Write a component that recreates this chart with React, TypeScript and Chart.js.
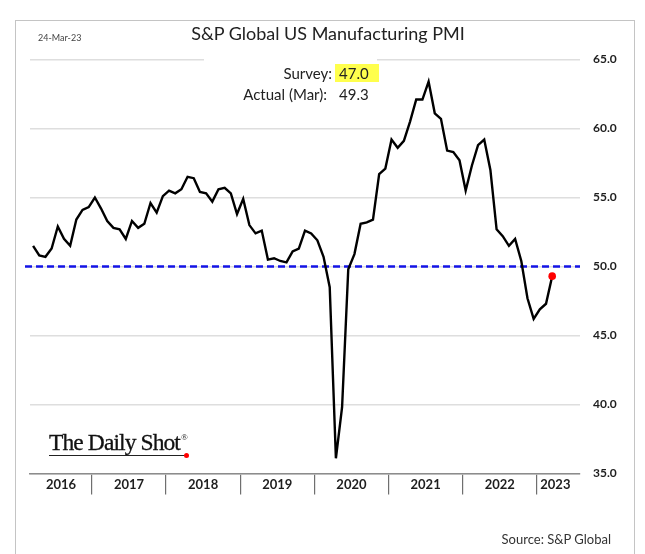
import React, { useEffect, useRef } from 'react';
import { Chart, registerables } from 'chart.js';

Chart.register(...registerables);

// ---- Data ----
const YEARS = ['2016', '2017', '2018', '2019', '2020', '2021', '2022', '2023'];
const MONTHS = ['Jan', 'Feb', 'Mar', 'Apr', 'May', 'Jun', 'Jul', 'Aug', 'Sep', 'Oct', 'Nov', 'Dec'];
const FIRST_MONTH_INDEX = 2; // axis starts Mar 2016
const LAST_MONTH_INDEX = 6; // axis runs to Jul 2023

const PMI_2016 = [51.5, 50.8, 50.7, 51.3, 52.9, 52.0, 51.5, 53.4, 54.1, 54.3]; // Mar-Dec
const PMI_2017 = [55.0, 54.2, 53.3, 52.8, 52.7, 52.0, 53.3, 52.8, 53.1, 54.6, 53.9, 55.1];
const PMI_2018 = [55.5, 55.3, 55.6, 56.5, 56.4, 55.4, 55.3, 54.7, 55.6, 55.7, 55.3, 53.8];
const PMI_2019 = [54.9, 53.0, 52.4, 52.6, 50.5, 50.6, 50.4, 50.3, 51.1, 51.3, 52.6, 52.4];
const PMI_2020 = [51.9, 50.7, 48.5, 36.1, 39.8, 49.8, 50.9, 53.1, 53.2, 53.4, 56.7, 57.1];
const PMI_2021 = [59.2, 58.6, 59.1, 60.5, 62.1, 62.1, 63.4, 61.1, 60.7, 58.4, 58.3, 57.7];
const PMI_2022 = [55.5, 57.3, 58.8, 59.2, 57.0, 52.7, 52.2, 51.5, 52.0, 50.4, 47.7, 46.2];
const PMI_2023 = [46.9, 47.3, 49.3]; // Jan-Mar

const THRESHOLD = 50;
const Y_MIN = 35;
const Y_MAX = 65;
const Y_STEP = 5;

const TITLE = 'S&P Global US Manufacturing PMI';
const DATE_TEXT = '24-Mar-23';
const SURVEY_LABEL = 'Survey:';
const SURVEY_VALUE = '47.0';
const ACTUAL_LABEL = 'Actual (Mar):';
const SOURCE = 'Source: S&P Global';

// ---- Derived tables ----
const categories: string[] = [];
const categoryYear: string[] = [];
YEARS.forEach((y, yi) => {
  MONTHS.forEach((m, mi) => {
    const startOk = yi > 0 || mi >= FIRST_MONTH_INDEX;
    const endOk = yi < YEARS.length - 1 || mi <= LAST_MONTH_INDEX;
    if (startOk && endOk) {
      categories.push(`${m} ${y}`);
      categoryYear.push(y);
    }
  });
});
const series = [...PMI_2016, ...PMI_2017, ...PMI_2018, ...PMI_2019, ...PMI_2020, ...PMI_2021, ...PMI_2022, ...PMI_2023];
const values: (number | null)[] = categories.map((_, i) => (i < series.length ? series[i] : null));
const lastIndex = series.length - 1;
const ACTUAL_VALUE = series[lastIndex].toFixed(1);

const yearLabelAt: Record<number, string> = {};
YEARS.forEach((y) => {
  const idx = categoryYear.map((cy, i) => (cy === y ? i : -1)).filter((i) => i >= 0);
  const mid = Math.ceil((idx[0] + idx[idx.length - 1]) / 2);
  yearLabelAt[mid] = y;
});

const FONT = 'Lato, "Open Sans", sans-serif';

const framePlugin = {
  id: 'frameAndRef',
  beforeDraw(chart: any) {
    const { ctx, width, height } = chart;
    ctx.save();
    ctx.fillStyle = '#ffffff';
    ctx.fillRect(0, 0, width, height);
    ctx.strokeStyle = '#c4c4c4';
    ctx.lineWidth = 1;
    ctx.strokeRect(15.5, 20.5, 619, height + 10);
    ctx.restore();
  },
  beforeDatasetsDraw(chart: any) {
    const { ctx, chartArea, scales } = chart;
    ctx.save();
    // gap in the top gridline behind the annotation
    ctx.fillStyle = '#ffffff';
    ctx.fillRect(204, scales.y.getPixelForValue(Y_MAX) - 4, 173, 8);
    // threshold line
    const y = scales.y.getPixelForValue(THRESHOLD);
    ctx.strokeStyle = '#1414e6';
    ctx.lineWidth = 2.4;
    ctx.setLineDash([7, 4]);
    ctx.beginPath();
    ctx.moveTo(25, y);
    ctx.lineTo(chartArea.right, y);
    ctx.stroke();
    ctx.restore();
  },
};

function PMIChart() {
  const ref = useRef<HTMLCanvasElement | null>(null);
  useEffect(() => {
    document.body.style.margin = '0';
    if (!ref.current) return;
    const chart = new Chart(ref.current, {
      type: 'line',
      data: {
        labels: categories,
        datasets: [
          {
            data: values,
            borderColor: '#000000',
            borderWidth: 2.4,
            tension: 0,
            fill: false,
            spanGaps: false,
            pointRadius: (c: any) => (c.dataIndex === lastIndex ? 3.8 : 0),
            pointHoverRadius: 0,
            pointBackgroundColor: '#ff0000',
            pointBorderWidth: 0,
          },
        ],
      },
      options: {
        responsive: false,
        animation: false,
        events: [],
        layout: { padding: { left: 30, top: 59.5, right: 0, bottom: 0 } },
        plugins: { legend: { display: false }, tooltip: { enabled: false }, title: { display: false } },
        scales: {
          x: {
            type: 'category',
            position: 'bottom',
            offset: true,
            afterFit: (s: any) => {
              s.height = 80.5;
            },
            grid: {
              display: true,
              offset: true,
              drawOnChartArea: false,
              drawTicks: true,
              tickLength: 21,
              lineWidth: 1.2,
              color: (c: any) => (categories[c.index] && categories[c.index].startsWith('Jan') ? '#6f6f6f' : 'rgba(0,0,0,0)'),
              tickColor: (c: any) => (categories[c.index] && categories[c.index].startsWith('Jan') ? '#6f6f6f' : 'rgba(0,0,0,0)'),
            },
            border: { display: true, color: '#8c8c8c', width: 1.6 },
            ticks: {
              autoSkip: false,
              maxRotation: 0,
              minRotation: 0,
              padding: -17.3,
              labelOffset: -3,
              color: '#1e1e1e',
              font: { family: FONT, size: 13, weight: 'bold' },
              callback: (_v: any, i: number) => yearLabelAt[i] ?? '',
            },
          },
          y: {
            position: 'right',
            min: Y_MIN,
            max: Y_MAX,
            afterFit: (s: any) => {
              s.width = 65;
            },
            grid: { color: '#dedede', lineWidth: 1.5, drawTicks: false },
            border: { display: false },
            ticks: {
              stepSize: Y_STEP,
              padding: 13,
              color: '#1e1e1e',
              font: { family: FONT, size: 12, weight: 'bold' },
              callback: (v: any) => Number(v).toFixed(1),
            },
          },
        },
      },
      plugins: [framePlugin],
    } as any);
    return () => chart.destroy();
  }, []);

  const txt: React.CSSProperties = { position: 'absolute', fontFamily: FONT, color: '#222', whiteSpace: 'nowrap' };

  return (
    <div style={{ position: 'relative', width: 645, height: 554, overflow: 'hidden', background: '#fff' }}>
      <canvas ref={ref} width={645} height={554} style={{ position: 'absolute', left: 0, top: 0 }} />
      <div style={{ ...txt, left: 0, width: 656, top: 22, lineHeight: '22px', fontSize: 18, textAlign: 'center' }}>{TITLE}</div>
      <div style={{ ...txt, left: 38, top: 32, lineHeight: '12px', fontSize: 9, color: '#444' }}>{DATE_TEXT}</div>
      <div style={{ ...txt, right: 645 - 332, top: 63, lineHeight: '20px', fontSize: 15 }}>{SURVEY_LABEL}</div>
      <div style={{ ...txt, left: 335, top: 64, width: 44, height: 18, background: '#ffff4d' }} />
      <div style={{ ...txt, left: 339, top: 63, lineHeight: '20px', fontSize: 15 }}>{SURVEY_VALUE}</div>
      <div style={{ ...txt, right: 645 - 327, top: 84, lineHeight: '20px', fontSize: 15 }}>{ACTUAL_LABEL}</div>
      <div style={{ ...txt, left: 339, top: 84, lineHeight: '20px', fontSize: 15 }}>{ACTUAL_VALUE}</div>
      <div style={{ ...txt, left: 49, top: 429, lineHeight: '27px', fontSize: 23.5, fontFamily: '"Liberation Serif", "DejaVu Serif", serif', color: '#111', letterSpacing: -0.9, WebkitTextStroke: '0.3px #111' }}>
        The Daily Shot<sup style={{ fontSize: 9, verticalAlign: 'top', lineHeight: '16px', marginLeft: 1, WebkitTextStroke: '0px' }}>®</sup>
      </div>
      <div style={{ position: 'absolute', left: 49, top: 455, width: 137, height: 1.3, background: '#222' }} />
      <div style={{ position: 'absolute', left: 184, top: 452.5, width: 5, height: 5, borderRadius: 3, background: '#ff0000' }} />
      <div style={{ ...txt, right: 645 - 611, top: 529, lineHeight: '20px', fontSize: 13, color: '#333' }}>{SOURCE}</div>
    </div>
  );
}

export default function App() {
  return <PMIChart />;
}
